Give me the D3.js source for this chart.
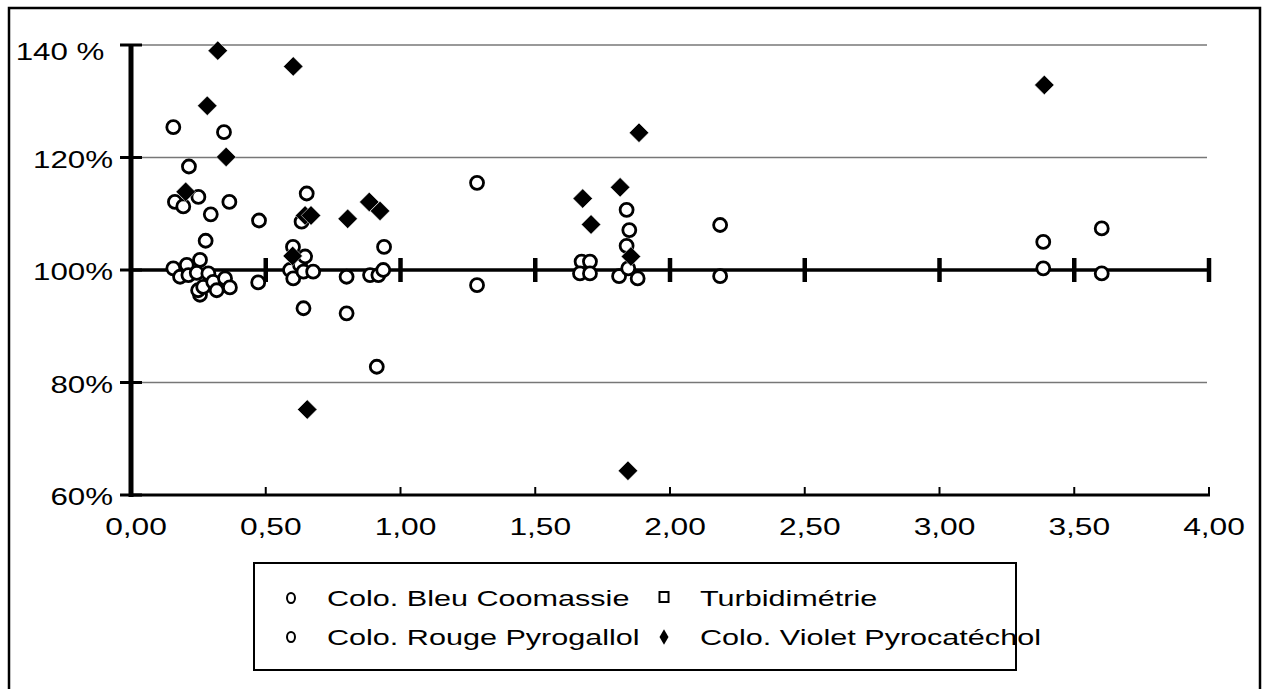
<!DOCTYPE html>
<html lang="fr">

<head>
    <meta charset="UTF-8">
    <title>Rapport des méthodes</title>
    <script src="https://d3js.org/d3.v7.min.js"></script>

    <style>
        body {
            margin: 0;
            background: #fff;
        }

        svg {
            display: block;
        }
    </style>

</head>

<body>
    <svg></svg>
    <script>
        const width = 1264;
        const height = 689;
        const font = "'Liberation Sans', Arial, sans-serif";

        // tick values and labels
        const xTicks = [0, 0.5, 1, 1.5, 2, 2.5, 3, 3.5, 4];
        const xTickLabels = ["0,00", "0,50", "1,00", "1,50", "2,00", "2,50", "3,00", "3,50", "4,00"];
        const yTicks = [60, 80, 100, 120, 140];
        const yTickLabels = ["60%", "80%", "100%", "120%", "140 %\u00a0"];
        const gridValues = [80, 120, 140];

        const seriesNames = ["Colo. Bleu Coomassie", "Turbidimétrie", "Colo. Rouge Pyrogallol", "Colo. Violet Pyrocatéchol"];

        // [concentration, ratio %]
        const bleuCoomassie = [
            [0.157, 125.4], [0.215, 118.4], [0.163, 112.1], [0.194, 111.3], [0.25, 113.0],
            [0.277, 105.2], [0.157, 100.3], [0.182, 98.8], [0.207, 100.9], [0.256, 101.8],
            [0.256, 95.6], [0.249, 96.4], [0.268, 97.0], [0.59, 100.0], [0.601, 104.1],
            [0.627, 100.9], [0.64, 93.2], [0.80, 98.8], [0.887, 99.1], [0.912, 82.8],
            [1.284, 115.5], [1.672, 101.5], [1.666, 99.4], [1.839, 110.7], [1.839, 104.3],
            [1.811, 98.9], [2.186, 108.0], [3.385, 105.0], [3.602, 107.4]
        ];
        const turbidimetrie = [];
        const rougePyrogallol = [
            [0.345, 124.5], [0.296, 109.9], [0.365, 112.1], [0.475, 108.8], [0.213, 99.1],
            [0.244, 99.5], [0.287, 99.4], [0.305, 97.9], [0.318, 96.4], [0.349, 98.5],
            [0.367, 96.9], [0.472, 97.8], [0.602, 98.5], [0.646, 102.4], [0.633, 108.6],
            [0.652, 113.6], [0.64, 99.7], [0.676, 99.7], [0.80, 92.3], [0.918, 99.1],
            [0.936, 100.0], [0.939, 104.1], [1.284, 97.3], [1.703, 101.5], [1.703, 99.4],
            [1.849, 107.1], [1.845, 100.3], [1.88, 98.5], [2.186, 98.9], [3.385, 100.3],
            [3.602, 99.4]
        ];
        const violetPyrocatechol = [
            [0.322, 139.0], [0.602, 136.2], [0.283, 129.2], [0.353, 120.1], [0.203, 113.9],
            [0.646, 109.7], [0.668, 109.7], [0.804, 109.1], [0.884, 112.1], [0.924, 110.5],
            [0.600, 102.5], [0.654, 75.2], [1.676, 112.7], [1.815, 114.7], [1.707, 108.1],
            [1.855, 102.4], [1.885, 124.4], [1.844, 64.3], [3.389, 132.9]
        ];

        const x = d3.scaleLinear().domain([0, 4]).range([131, 1209]);
        const y = d3.scaleLinear().domain([60, 140]).range([495, 45]);

        const svg = d3.select("svg")
            .attr("width", width)
            .attr("height", height);

        // the original text is drawn wide, so every label is stretched sideways
        function label(parent, px, py, str, size, k, anchor) {
            return parent.append("text")
                .attr("transform", `translate(${px},${py}) scale(${k},1)`)
                .attr("text-anchor", anchor)
                .attr("font-family", font)
                .attr("font-size", size)
                .attr("fill", "#000")
                .style("white-space", "pre")
                .text(str);
        }

        // outer frame
        svg.append("rect")
            .attr("x", 9).attr("y", 8)
            .attr("width", 1251).attr("height", 720)
            .attr("fill", "none")
            .attr("stroke", "#000")
            .attr("stroke-width", 2.5);

        // grid
        svg.selectAll(".grid")
            .data(gridValues)
            .enter()
            .append("line")
            .attr("x1", x(0)).attr("x2", x(4) - 2)
            .attr("y1", d => y(d)).attr("y2", d => y(d))
            .attr("stroke", "#777")
            .attr("stroke-width", 1.5);

        // bottom axis (60%)
        svg.append("line")
            .attr("x1", x(0)).attr("x2", x(4) + 1)
            .attr("y1", y(60)).attr("y2", y(60))
            .attr("stroke", "#000").attr("stroke-width", 3);
        svg.selectAll(".btick")
            .data(xTicks.slice(1))
            .enter()
            .append("line")
            .attr("x1", d => x(d)).attr("x2", d => x(d))
            .attr("y1", y(60) - 8).attr("y2", y(60))
            .attr("stroke", "#000").attr("stroke-width", 2);

        // 100% reference line with crossing ticks
        svg.append("line")
            .attr("x1", x(0)).attr("x2", x(4))
            .attr("y1", y(100)).attr("y2", y(100))
            .attr("stroke", "#000").attr("stroke-width", 3.5);
        svg.selectAll(".mtick")
            .data(xTicks.slice(1))
            .enter()
            .append("line")
            .attr("x1", d => x(d)).attr("x2", d => x(d))
            .attr("y1", y(100) - 12).attr("y2", y(100) + 12)
            .attr("stroke", "#000").attr("stroke-width", 4.5);

        // y axis
        svg.append("line")
            .attr("x1", x(0)).attr("x2", x(0))
            .attr("y1", y(140)).attr("y2", y(60) + 2)
            .attr("stroke", "#000").attr("stroke-width", 5);
        svg.selectAll(".ytick")
            .data(yTicks)
            .enter()
            .append("line")
            .attr("x1", x(0) - 11).attr("x2", x(0) + 11)
            .attr("y1", d => y(d)).attr("y2", d => y(d))
            .attr("stroke", "#000").attr("stroke-width", 3);

        // tick labels
        yTicks.forEach((v, i) => label(svg, 113, Math.max(y(v) + 10, 60), yTickLabels[i], 23, 1.36, "end"));
        xTicks.forEach((v, i) => label(svg, x(v) + 5, 535, xTickLabels[i], 23, 1.38, "middle"));

        // points
        const gPoints = svg.append("g");
        [bleuCoomassie, turbidimetrie, rougePyrogallol].forEach((data, i) => {
            if (i == 1) {
                gPoints.selectAll(".sq")
                    .data(data)
                    .enter()
                    .append("rect")
                    .attr("x", d => x(d[0]) - 6).attr("y", d => y(d[1]) - 6)
                    .attr("width", 12).attr("height", 12)
                    .attr("fill", "#fff").attr("stroke", "#000").attr("stroke-width", 2.5);
                return;
            }
            gPoints.selectAll(".c" + i)
                .data(data)
                .enter()
                .append("circle")
                .attr("cx", d => x(d[0]))
                .attr("cy", d => y(d[1]))
                .attr("r", 6.5)
                .attr("fill", "#fff")
                .attr("stroke", "#000")
                .attr("stroke-width", 2.8);
        });

        const diamond = d3.symbol().type(d3.symbolSquare).size(190);
        gPoints.selectAll(".dia")
            .data(violetPyrocatechol)
            .enter()
            .append("path")
            .attr("d", diamond)
            .attr("transform", d => `translate(${x(d[0])},${y(d[1])}) rotate(45)`)
            .attr("fill", "#000")
            .attr("stroke", "#fff")
            .attr("stroke-width", 0.5);

        // legend
        const gLegend = svg.append("g");
        gLegend.append("rect")
            .attr("x", 254).attr("y", 563)
            .attr("width", 762).attr("height", 107)
            .attr("fill", "#fff")
            .attr("stroke", "#000")
            .attr("stroke-width", 2);

        const legendCol = [291, 664];
        const legendRow = [598, 637];
        seriesNames.forEach((name, i) => {
            const g = gLegend.append("g")
                .attr("transform", `translate(${legendCol[i % 2]},${legendRow[Math.floor(i / 2)]})`);
            if (i == 0 || i == 2) {
                g.append("ellipse").attr("rx", 4).attr("ry", 5)
                    .attr("fill", "#fff").attr("stroke", "#000").attr("stroke-width", 2);
            } else if (i == 1) {
                g.append("rect").attr("x", -4.5).attr("y", -6).attr("width", 9).attr("height", 10)
                    .attr("fill", "#fff").attr("stroke", "#000").attr("stroke-width", 2);
            } else {
                g.append("path").attr("d", d3.symbol().type(d3.symbolDiamond).size(70))
                    .attr("fill", "#000");
            }
            label(g, 36, 8, name, 22, 1.39, "start");
        });
    </script>
</body>

</html>
